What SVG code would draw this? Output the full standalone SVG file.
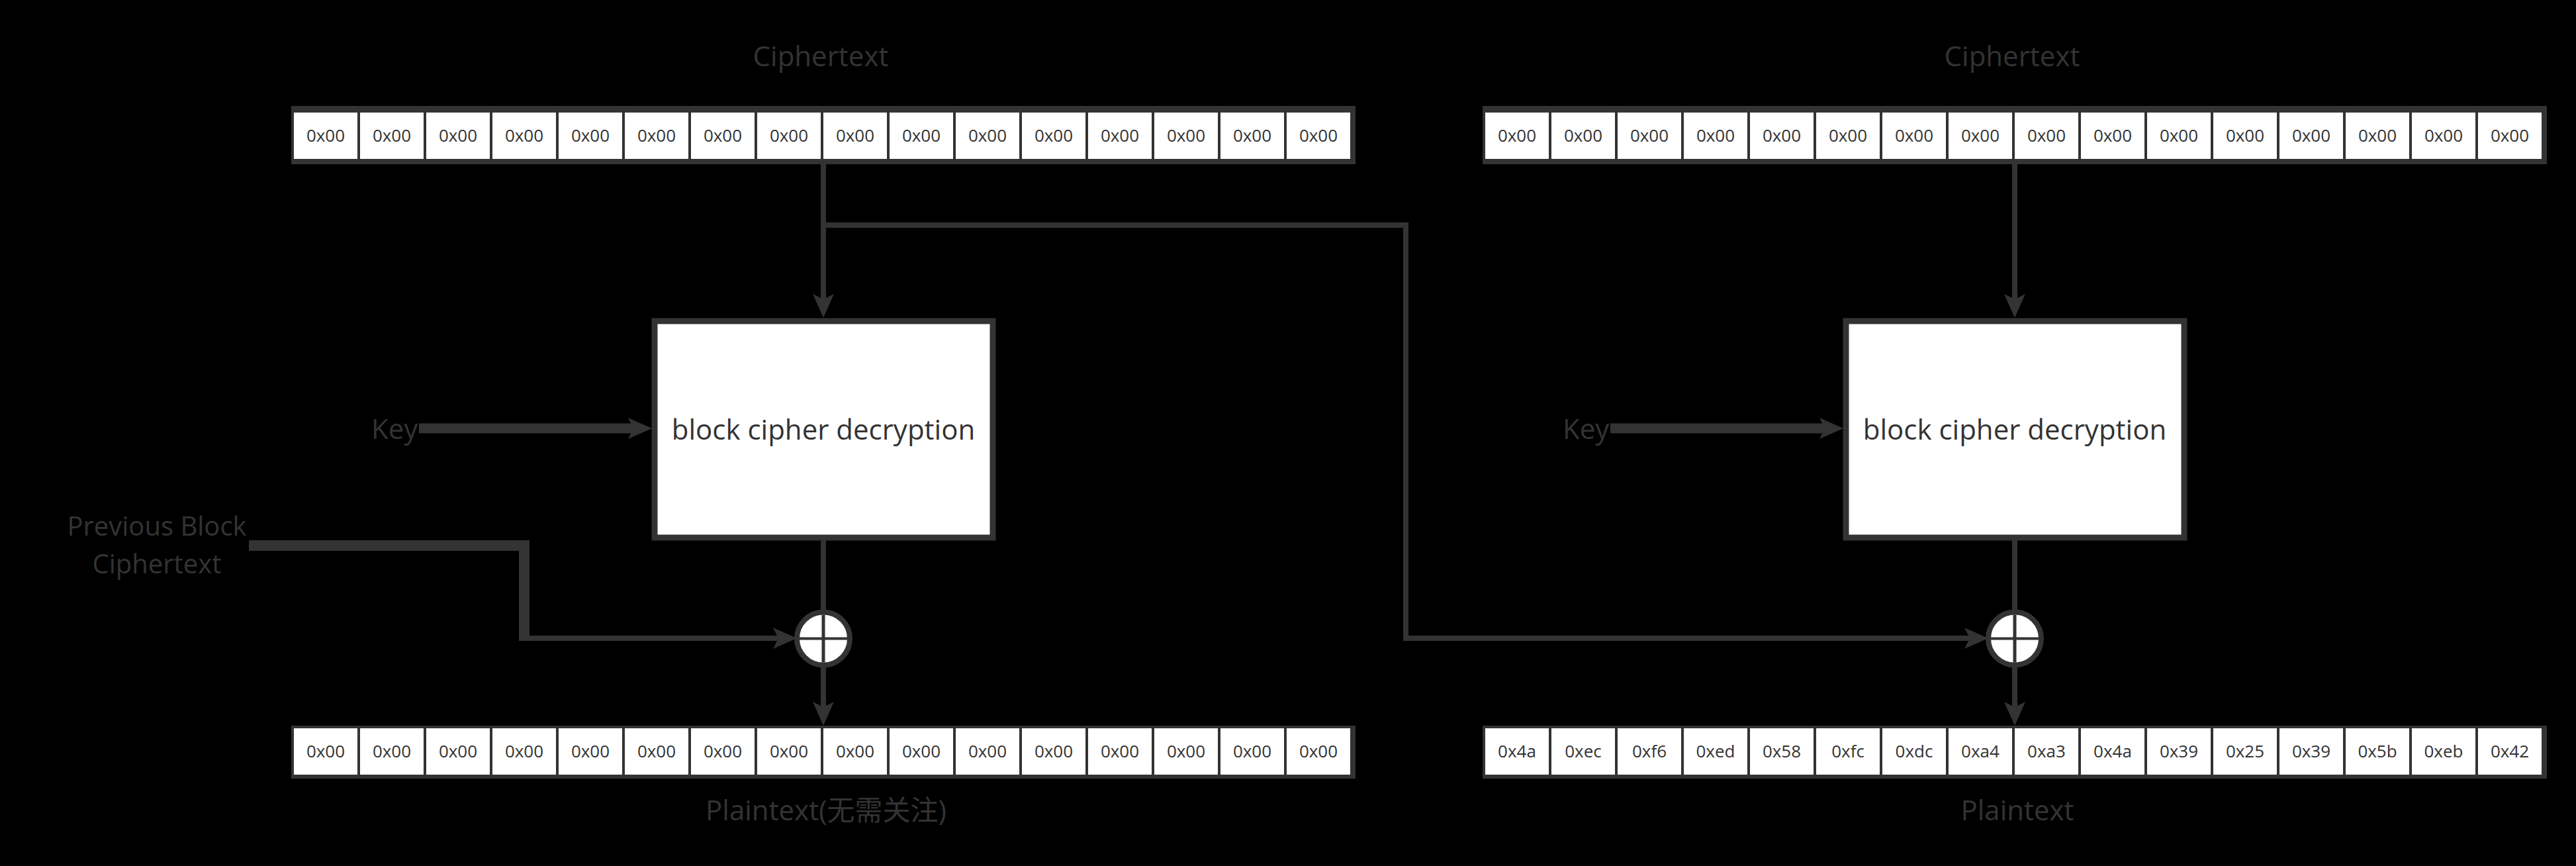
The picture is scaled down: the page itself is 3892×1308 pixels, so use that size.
<svg xmlns="http://www.w3.org/2000/svg" width="3892" height="1308" viewBox="0 0 3892 1308">
<style>
.bg{fill:#000}
.rowbg{fill:#333}
.cell{fill:#fff}
.hex{font-family:"Open Sans","Noto Sans",sans-serif;font-size:26px;fill:#333;text-anchor:middle}
.lbl{font-family:"Open Sans","Noto Sans","Noto Sans CJK SC",sans-serif;font-size:42px;fill:#333;text-anchor:middle}
.box{fill:#fff;stroke:#333;stroke-width:9}
.xor{fill:#fff;stroke:#333;stroke-width:8}
.edge{fill:none;stroke:#333;stroke-width:8}
.thick{stroke-width:16}
.key{stroke-width:15}
</style>
<defs>
<marker id="arr" markerUnits="userSpaceOnUse" viewBox="0 0 36 32" markerWidth="36" markerHeight="32" refX="18" refY="16" orient="auto">
<path d="M0,0 L36,16 L0,32 L8,16 Z" fill="#333"/>
</marker>
</defs>
<rect class="bg" x="0" y="0" width="3892" height="1308"/>

<g id="connectors">
<path class="edge" d="M1244 248 V462" marker-end="url(#arr)"/>
<path class="edge" d="M1244 340 H2124 V964 H2986" marker-end="url(#arr)"/>
<path class="edge key" d="M633 647 H967" marker-end="url(#arr)"/>
<path class="edge thick" d="M376 824 H792 V960"/>
<path class="edge" d="M784 964 H1186" marker-end="url(#arr)"/>
<path class="edge" d="M1244 816 V926"/>
<path class="edge" d="M1244 1004 V1078" marker-end="url(#arr)"/>
<path class="edge" d="M3044 248 V462" marker-end="url(#arr)"/>
<path class="edge key" d="M2433 647 H2767" marker-end="url(#arr)"/>
<path class="edge" d="M3044 816 V926"/>
<path class="edge" d="M3044 1004 V1078" marker-end="url(#arr)"/>
</g>

<g id="label-ciphertext-left"><text class="lbl" x="1240" y="100">Ciphertext</text></g>
<g id="label-ciphertext-right"><text class="lbl" x="3040" y="100">Ciphertext</text></g>

<g id="row-cipher-left">
<rect class="rowbg" x="440" y="160" width="1608" height="88"/>
<rect class="cell" x="444" y="170" width="96" height="70"/><text class="hex" x="492" y="214">0x00</text>
<rect class="cell" x="544" y="170" width="96" height="70"/><text class="hex" x="592" y="214">0x00</text>
<rect class="cell" x="644" y="170" width="96" height="70"/><text class="hex" x="692" y="214">0x00</text>
<rect class="cell" x="744" y="170" width="96" height="70"/><text class="hex" x="792" y="214">0x00</text>
<rect class="cell" x="844" y="170" width="96" height="70"/><text class="hex" x="892" y="214">0x00</text>
<rect class="cell" x="944" y="170" width="96" height="70"/><text class="hex" x="992" y="214">0x00</text>
<rect class="cell" x="1044" y="170" width="96" height="70"/><text class="hex" x="1092" y="214">0x00</text>
<rect class="cell" x="1144" y="170" width="96" height="70"/><text class="hex" x="1192" y="214">0x00</text>
<rect class="cell" x="1244" y="170" width="96" height="70"/><text class="hex" x="1292" y="214">0x00</text>
<rect class="cell" x="1344" y="170" width="96" height="70"/><text class="hex" x="1392" y="214">0x00</text>
<rect class="cell" x="1444" y="170" width="96" height="70"/><text class="hex" x="1492" y="214">0x00</text>
<rect class="cell" x="1544" y="170" width="96" height="70"/><text class="hex" x="1592" y="214">0x00</text>
<rect class="cell" x="1644" y="170" width="96" height="70"/><text class="hex" x="1692" y="214">0x00</text>
<rect class="cell" x="1744" y="170" width="96" height="70"/><text class="hex" x="1792" y="214">0x00</text>
<rect class="cell" x="1844" y="170" width="96" height="70"/><text class="hex" x="1892" y="214">0x00</text>
<rect class="cell" x="1944" y="170" width="96" height="70"/><text class="hex" x="1992" y="214">0x00</text>
</g>

<g id="row-cipher-right">
<rect class="rowbg" x="2240" y="160" width="1608" height="88"/>
<rect class="cell" x="2244" y="170" width="96" height="70"/><text class="hex" x="2292" y="214">0x00</text>
<rect class="cell" x="2344" y="170" width="96" height="70"/><text class="hex" x="2392" y="214">0x00</text>
<rect class="cell" x="2444" y="170" width="96" height="70"/><text class="hex" x="2492" y="214">0x00</text>
<rect class="cell" x="2544" y="170" width="96" height="70"/><text class="hex" x="2592" y="214">0x00</text>
<rect class="cell" x="2644" y="170" width="96" height="70"/><text class="hex" x="2692" y="214">0x00</text>
<rect class="cell" x="2744" y="170" width="96" height="70"/><text class="hex" x="2792" y="214">0x00</text>
<rect class="cell" x="2844" y="170" width="96" height="70"/><text class="hex" x="2892" y="214">0x00</text>
<rect class="cell" x="2944" y="170" width="96" height="70"/><text class="hex" x="2992" y="214">0x00</text>
<rect class="cell" x="3044" y="170" width="96" height="70"/><text class="hex" x="3092" y="214">0x00</text>
<rect class="cell" x="3144" y="170" width="96" height="70"/><text class="hex" x="3192" y="214">0x00</text>
<rect class="cell" x="3244" y="170" width="96" height="70"/><text class="hex" x="3292" y="214">0x00</text>
<rect class="cell" x="3344" y="170" width="96" height="70"/><text class="hex" x="3392" y="214">0x00</text>
<rect class="cell" x="3444" y="170" width="96" height="70"/><text class="hex" x="3492" y="214">0x00</text>
<rect class="cell" x="3544" y="170" width="96" height="70"/><text class="hex" x="3592" y="214">0x00</text>
<rect class="cell" x="3644" y="170" width="96" height="70"/><text class="hex" x="3692" y="214">0x00</text>
<rect class="cell" x="3744" y="170" width="96" height="70"/><text class="hex" x="3792" y="214">0x00</text>
</g>

<g id="box-left">
<rect class="box" x="989" y="485" width="511" height="327"/>
<text class="lbl" x="1244" y="664">block cipher decryption</text>
</g>
<g id="box-right">
<rect class="box" x="2789" y="485" width="511" height="327"/>
<text class="lbl" x="3044" y="664">block cipher decryption</text>
</g>

<g id="label-key-left"><text class="lbl" x="561" y="663" style="text-anchor:start">Key</text></g>
<g id="label-key-right"><text class="lbl" x="2361" y="663" style="text-anchor:start">Key</text></g>

<g id="label-prev-block">
<text class="lbl" x="237" y="809" style="font-size:40px">Previous Block</text>
<text class="lbl" x="237" y="866" style="font-size:40px">Ciphertext</text>
</g>

<g id="xor-left">
<circle class="xor" cx="1244" cy="964.5" r="40"/>
<path d="M1244 928.5 V1000.5" stroke="#333" stroke-width="5"/>
<path d="M1208 964.5 H1280" stroke="#333" stroke-width="4"/>
</g>
<g id="xor-right">
<circle class="xor" cx="3044" cy="964.5" r="40"/>
<path d="M3044 928.5 V1000.5" stroke="#333" stroke-width="5"/>
<path d="M3008 964.5 H3080" stroke="#333" stroke-width="4"/>
</g>

<g id="row-plain-left">
<rect class="rowbg" x="440" y="1096" width="1608" height="80"/>
<rect class="cell" x="444" y="1100" width="96" height="70"/><text class="hex" x="492" y="1144">0x00</text>
<rect class="cell" x="544" y="1100" width="96" height="70"/><text class="hex" x="592" y="1144">0x00</text>
<rect class="cell" x="644" y="1100" width="96" height="70"/><text class="hex" x="692" y="1144">0x00</text>
<rect class="cell" x="744" y="1100" width="96" height="70"/><text class="hex" x="792" y="1144">0x00</text>
<rect class="cell" x="844" y="1100" width="96" height="70"/><text class="hex" x="892" y="1144">0x00</text>
<rect class="cell" x="944" y="1100" width="96" height="70"/><text class="hex" x="992" y="1144">0x00</text>
<rect class="cell" x="1044" y="1100" width="96" height="70"/><text class="hex" x="1092" y="1144">0x00</text>
<rect class="cell" x="1144" y="1100" width="96" height="70"/><text class="hex" x="1192" y="1144">0x00</text>
<rect class="cell" x="1244" y="1100" width="96" height="70"/><text class="hex" x="1292" y="1144">0x00</text>
<rect class="cell" x="1344" y="1100" width="96" height="70"/><text class="hex" x="1392" y="1144">0x00</text>
<rect class="cell" x="1444" y="1100" width="96" height="70"/><text class="hex" x="1492" y="1144">0x00</text>
<rect class="cell" x="1544" y="1100" width="96" height="70"/><text class="hex" x="1592" y="1144">0x00</text>
<rect class="cell" x="1644" y="1100" width="96" height="70"/><text class="hex" x="1692" y="1144">0x00</text>
<rect class="cell" x="1744" y="1100" width="96" height="70"/><text class="hex" x="1792" y="1144">0x00</text>
<rect class="cell" x="1844" y="1100" width="96" height="70"/><text class="hex" x="1892" y="1144">0x00</text>
<rect class="cell" x="1944" y="1100" width="96" height="70"/><text class="hex" x="1992" y="1144">0x00</text>
</g>

<g id="row-plain-right">
<rect class="rowbg" x="2240" y="1096" width="1608" height="80"/>
<rect class="cell" x="2244" y="1100" width="96" height="70"/><text class="hex" x="2292" y="1144">0x4a</text>
<rect class="cell" x="2344" y="1100" width="96" height="70"/><text class="hex" x="2392" y="1144">0xec</text>
<rect class="cell" x="2444" y="1100" width="96" height="70"/><text class="hex" x="2492" y="1144">0xf6</text>
<rect class="cell" x="2544" y="1100" width="96" height="70"/><text class="hex" x="2592" y="1144">0xed</text>
<rect class="cell" x="2644" y="1100" width="96" height="70"/><text class="hex" x="2692" y="1144">0x58</text>
<rect class="cell" x="2744" y="1100" width="96" height="70"/><text class="hex" x="2792" y="1144">0xfc</text>
<rect class="cell" x="2844" y="1100" width="96" height="70"/><text class="hex" x="2892" y="1144">0xdc</text>
<rect class="cell" x="2944" y="1100" width="96" height="70"/><text class="hex" x="2992" y="1144">0xa4</text>
<rect class="cell" x="3044" y="1100" width="96" height="70"/><text class="hex" x="3092" y="1144">0xa3</text>
<rect class="cell" x="3144" y="1100" width="96" height="70"/><text class="hex" x="3192" y="1144">0x4a</text>
<rect class="cell" x="3244" y="1100" width="96" height="70"/><text class="hex" x="3292" y="1144">0x39</text>
<rect class="cell" x="3344" y="1100" width="96" height="70"/><text class="hex" x="3392" y="1144">0x25</text>
<rect class="cell" x="3444" y="1100" width="96" height="70"/><text class="hex" x="3492" y="1144">0x39</text>
<rect class="cell" x="3544" y="1100" width="96" height="70"/><text class="hex" x="3592" y="1144">0x5b</text>
<rect class="cell" x="3644" y="1100" width="96" height="70"/><text class="hex" x="3692" y="1144">0xeb</text>
<rect class="cell" x="3744" y="1100" width="96" height="70"/><text class="hex" x="3792" y="1144">0x42</text>
</g>

<g id="label-plaintext-left"><text class="lbl" x="1248" y="1239">Plaintext(无需关注)</text></g>
<g id="label-plaintext-right"><text class="lbl" x="3048" y="1239">Plaintext</text></g>
</svg>
